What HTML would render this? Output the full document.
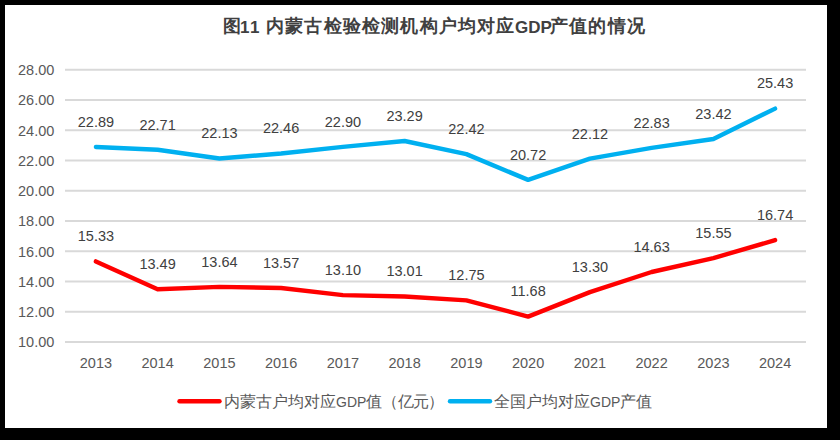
<!DOCTYPE html>
<html><head><meta charset="utf-8">
<style>
html,body{margin:0;padding:0;width:840px;height:440px;overflow:hidden;background:#000;}
body{font-family:"Liberation Sans",sans-serif;position:relative;}
#card{position:absolute;left:5px;top:5px;width:822px;height:423px;background:#fff;}
svg{position:absolute;left:0;top:0;}
.ax text{font-family:"Liberation Sans",sans-serif;font-size:14.5px;fill:#595959;}
.dl text{font-family:"Liberation Sans",sans-serif;font-size:14.5px;fill:#404040;text-anchor:middle;}
.title{position:absolute;left:0;top:0;font-weight:bold;color:#404040;white-space:nowrap;}
.title span{position:absolute;top:0;line-height:1;}
.title .c{font-size:18px;letter-spacing:1.2px;top:17px;}
.title .l{font-size:17px;top:19.3px;}
.lg{position:absolute;top:392px;font-size:15.5px;color:#595959;white-space:nowrap;}
.lg .g{font-size:14px;}
.lg .pp{letter-spacing:-0.8px;}
</style></head>
<body>
<div id="card"></div>
<div class="title">
<span class="c" style="left:223px">图</span><span class="l" style="left:240px;letter-spacing:1.5px">11</span><span class="c" style="left:266px">内蒙古检验检测机构户均对应</span><span class="l" style="left:515px">GDP</span><span class="c" style="left:550px">产值的情况</span>
</div>
<svg width="840" height="440" viewBox="0 0 840 440">
<g stroke="#d9d9d9" stroke-width="2">
<line x1="65" x2="806" y1="69.80" y2="69.80"/>
<line x1="65" x2="806" y1="100.05" y2="100.05"/>
<line x1="65" x2="806" y1="130.30" y2="130.30"/>
<line x1="65" x2="806" y1="160.55" y2="160.55"/>
<line x1="65" x2="806" y1="190.80" y2="190.80"/>
<line x1="65" x2="806" y1="221.05" y2="221.05"/>
<line x1="65" x2="806" y1="251.30" y2="251.30"/>
<line x1="65" x2="806" y1="281.55" y2="281.55"/>
<line x1="65" x2="806" y1="311.80" y2="311.80"/>
<line x1="65" x2="806" y1="342.05" y2="342.05"/>
</g>
<g class="ax" text-anchor="end">
<text x="54.3" y="75.1">28.00</text>
<text x="54.3" y="105.3">26.00</text>
<text x="54.3" y="135.6">24.00</text>
<text x="54.3" y="165.9">22.00</text>
<text x="54.3" y="196.1">20.00</text>
<text x="54.3" y="226.4">18.00</text>
<text x="54.3" y="256.6">16.00</text>
<text x="54.3" y="286.9">14.00</text>
<text x="54.3" y="317.1">12.00</text>
<text x="54.3" y="347.4">10.00</text>
</g>
<g class="ax" text-anchor="middle">
<text x="95.9" y="368.2">2013</text>
<text x="157.6" y="368.2">2014</text>
<text x="219.4" y="368.2">2015</text>
<text x="281.1" y="368.2">2016</text>
<text x="342.9" y="368.2">2017</text>
<text x="404.6" y="368.2">2018</text>
<text x="466.4" y="368.2">2019</text>
<text x="528.1" y="368.2">2020</text>
<text x="589.9" y="368.2">2021</text>
<text x="651.6" y="368.2">2022</text>
<text x="713.4" y="368.2">2023</text>
<text x="775.1" y="368.2">2024</text>
</g>
<g fill="none" stroke-linecap="round" stroke-linejoin="round" stroke-width="4.4">
<polyline stroke="#00b0f0" points="95.9,147.0 157.6,149.8 219.4,158.5 281.1,153.5 342.9,146.9 404.6,141.0 466.4,154.1 528.1,179.9 589.9,158.7 651.6,147.9 713.4,139.0 775.1,108.6"/>
<polyline stroke="#ff0000" points="95.9,261.4 157.6,289.2 219.4,286.9 281.1,288.0 342.9,295.1 404.6,296.5 466.4,300.4 528.1,316.6 589.9,292.1 651.6,272.0 713.4,258.1 775.1,240.1"/>
</g>
<g class="dl">
<text x="95.9" y="126.8">22.89</text>
<text x="157.6" y="129.6">22.71</text>
<text x="219.4" y="138.3">22.13</text>
<text x="281.1" y="133.3">22.46</text>
<text x="342.9" y="126.7">22.90</text>
<text x="404.6" y="120.8">23.29</text>
<text x="466.4" y="133.9">22.42</text>
<text x="528.1" y="159.7">20.72</text>
<text x="589.9" y="138.5">22.12</text>
<text x="651.6" y="127.7">22.83</text>
<text x="713.4" y="118.8">23.42</text>
<text x="775.1" y="88.4">25.43</text>
<text x="95.9" y="241.2">15.33</text>
<text x="157.6" y="269.0">13.49</text>
<text x="219.4" y="266.7">13.64</text>
<text x="281.1" y="267.8">13.57</text>
<text x="342.9" y="274.9">13.10</text>
<text x="404.6" y="276.3">13.01</text>
<text x="466.4" y="280.2">12.75</text>
<text x="528.1" y="296.4">11.68</text>
<text x="589.9" y="271.9">13.30</text>
<text x="651.6" y="251.8">14.63</text>
<text x="713.4" y="237.9">15.55</text>
<text x="775.1" y="219.9">16.74</text>
</g>
<g fill="none" stroke-linecap="round" stroke-width="4.4">
<line x1="179.5" x2="219.5" y1="401.2" y2="401.2" stroke="#ff0000"/>
<line x1="450" x2="490" y1="401.2" y2="401.2" stroke="#00b0f0"/>
</g>
</svg>
<div class="lg" style="left:224px">内蒙古户均对应<span class="g">GDP</span>值<span class="pp">（亿元）</span></div>
<div class="lg" style="left:494px">全国户均对应<span class="g">GDP</span>产值</div>
</body></html>
